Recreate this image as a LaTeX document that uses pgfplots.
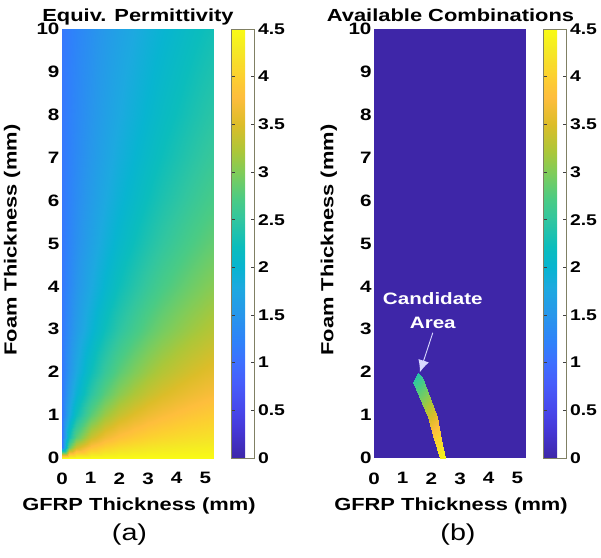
\documentclass[border=0pt]{standalone}
\usepackage{pgfplots}
\pgfplotsset{compat=1.18}
\usepackage{pgfplotstable}
\usepackage{fontspec}
\setmainfont{Liberation Sans}[FakeStretch=1.25]
\usetikzlibrary{arrows.meta}
\definecolor{parulalow}{rgb}{0.2422,0.1504,0.6603}
\definecolor{cbframe}{RGB}{128,128,100}

\pgfplotstableread{
x y c
0 0 4.5
0.25 0 4.5
0.5 0 4.5
1 0 4.5
1.5 0 4.5
2 0 4.5
2.5 0 4.5
3 0 4.5
3.5 0 4.5
4 0 4.5
4.5 0 4.5
5 0 4.5
5.3 0 4.5
0 0.25 1.1
0.25 0.25 2.8
0.5 0.25 3.367
1 0.25 3.82
1.5 0.25 4.014
2 0.25 4.122
2.5 0.25 4.191
3 0.25 4.238
3.5 0.25 4.273
4 0.25 4.3
4.5 0.25 4.321
5 0.25 4.338
5.3 0.25 4.347
0 0.5 1.1
0.25 0.5 2.233
0.5 0.5 2.8
1 0.5 3.367
1.5 0.5 3.65
2 0.5 3.82
2.5 0.5 3.933
3 0.5 4.014
3.5 0.5 4.075
4 0.5 4.122
4.5 0.5 4.16
5 0.5 4.191
5.3 0.5 4.208
0 1 1.1
0.25 1 1.78
0.5 1 2.233
1 1 2.8
1.5 1 3.14
2 1 3.367
2.5 1 3.529
3 1 3.65
3.5 1 3.744
4 1 3.82
4.5 1 3.882
5 1 3.933
5.3 1 3.959
0 1.5 1.1
0.25 1.5 1.586
0.5 1.5 1.95
1 1.5 2.46
1.5 1.5 2.8
2 1.5 3.043
2.5 1.5 3.225
3 1.5 3.367
3.5 1.5 3.48
4 1.5 3.573
4.5 1.5 3.65
5 1.5 3.715
5.3 1.5 3.749
0 2 1.1
0.25 2 1.478
0.5 2 1.78
1 2 2.233
1.5 2 2.557
2 2 2.8
2.5 2 2.989
3 2 3.14
3.5 2 3.264
4 2 3.367
4.5 2 3.454
5 2 3.529
5.3 2 3.57
0 3 1.1
0.25 3 1.362
0.5 3 1.586
1 3 1.95
1.5 3 2.233
2 3 2.46
2.5 3 2.645
3 3 2.8
3.5 3 2.931
4 3 3.043
4.5 3 3.14
5 3 3.225
5.3 3 3.274
0 4 1.1
0.25 4 1.3
0.5 4 1.478
1 4 1.78
1.5 4 2.027
2 4 2.233
2.5 4 2.408
3 4 2.557
3.5 4 2.687
4 4 2.8
4.5 4 2.899
5 4 2.989
5.3 4 3.038
0 5 1.1
0.25 5 1.262
0.5 5 1.409
1 5 1.667
1.5 5 1.885
2 5 2.071
2.5 5 2.233
3 5 2.375
3.5 5 2.5
4 5 2.611
4.5 5 2.711
5 5 2.8
5.3 5 2.851
0 6 1.1
0.25 6 1.236
0.5 6 1.362
1 6 1.586
1.5 6 1.78
2 6 1.95
2.5 6 2.1
3 6 2.233
3.5 6 2.353
4 6 2.46
4.5 6 2.557
5 6 2.645
5.3 6 2.695
0 7 1.1
0.25 7 1.217
0.5 7 1.327
1 7 1.525
1.5 7 1.7
2 7 1.856
2.5 7 1.995
3 7 2.12
3.5 7 2.233
4 7 2.336
4.5 7 2.43
5 7 2.517
5.3 7 2.565
0 8 1.1
0.25 8 1.203
0.5 8 1.3
1 8 1.478
1.5 8 1.637
2 8 1.78
2.5 8 1.91
3 8 2.027
3.5 8 2.135
4 8 2.233
4.5 8 2.324
5 8 2.408
5.3 8 2.453
0 10 1.1
0.25 10 1.183
0.5 10 1.262
1 10 1.409
1.5 10 1.543
2 10 1.667
2.5 10 1.78
3 10 1.885
3.5 10 1.981
4 10 2.071
4.5 10 2.155
5 10 2.233
5.3 10 2.277
}\permdata

\pgfplotstableread{
x y c
1.54 1.98 2.4
1.36 1.77 2.5
1.68 1.88 2.6
1.36 1.77 2.5
1.68 1.88 2.6
1.875 0.96 3.4
1.68 1.88 2.6
1.875 0.96 3.4
2.19 0.96 3.6
1.875 0.96 3.4
2.19 0.96 3.6
2.10 0.45 3.95
2.19 0.96 3.6
2.10 0.45 3.95
2.34 0.45 4.1
2.10 0.45 3.95
2.34 0.45 4.1
2.31 0 4.35
2.34 0.45 4.1
2.31 0 4.35
2.48 0 4.45
}\stripdata

\pgfplotsset{
  panel/.style={
    scale only axis, width=152pt, height=429pt,
    xmin=0, xmax=5.3, ymin=0, ymax=10,
    xtick={0,1,2,3,4,5}, ytick={0,1,2,3,4,5,6,7,8,9,10},
    axis line style={draw=none},
    tick style={draw=none},
    tick label style={font=\bfseries\fontsize{16.5}{16.5}\selectfont},
    xticklabel style={yshift=-11pt},
    yticklabel style={xshift=1pt},
    /pgf/number format/assume math mode=true,
    colormap={parula}{
      rgb(0pt)=(0.2422,0.1504,0.6603)
      rgb(4pt)=(0.2706,0.2147,0.8364)
      rgb(7pt)=(0.2803,0.2782,0.9221)
      rgb(11pt)=(0.2760,0.3667,0.9829)
      rgb(14pt)=(0.2440,0.4358,0.9988)
      rgb(17pt)=(0.1834,0.5074,0.9798)
      rgb(21pt)=(0.1540,0.5902,0.9218)
      rgb(25pt)=(0.1113,0.6635,0.8763)
      rgb(28pt)=(0.0297,0.7082,0.8163)
      rgb(31pt)=(0.0433,0.7411,0.7394)
      rgb(35pt)=(0.1938,0.7758,0.6251)
      rgb(38pt)=(0.2906,0.7973,0.5188)
      rgb(42pt)=(0.5044,0.7993,0.3480)
      rgb(45pt)=(0.6720,0.7793,0.2227)
      rgb(49pt)=(0.8634,0.7406,0.1596)
      rgb(53pt)=(0.9956,0.7434,0.2371)
      rgb(56pt)=(0.9892,0.8136,0.1885)
      rgb(60pt)=(0.9597,0.9135,0.1423)
      rgb(63pt)=(0.9769,0.9839,0.0805)
    },
    point meta min=0, point meta max=4.5,
    colorbar,
    colorbar shift/.style={xshift=17pt},
    colorbar style={
      at={(parent axis.north east)}, anchor=north west,
      scale only axis,
      width=23.5pt,
      ytick={0,0.5,1,1.5,2,2.5,3,3.5,4,4.5},
      yticklabel style={font=\bfseries\fontsize{15.5}{15.5}\selectfont, xshift=0pt},
      /pgf/number format/assume math mode=true,
      tick align=inside, major tick length=4pt,
      ytick style={draw=black!75, line width=0.6pt},
      axis line style={draw=cbframe, line width=0.7pt},
    },
  }
}

\begin{document}
\begin{tikzpicture}
\begin{axis}[panel, at={(0pt,0pt)}, anchor=south west]
  \addplot[surf, shader=interp, mesh/rows=13, mesh/cols=13, point meta=explicit]
    table[x=x, y=y, meta=c] {\permdata};
\end{axis}

\begin{axis}[panel, at={(312pt,0pt)}, anchor=south west]
  \addplot[draw=none, fill=parulalow] coordinates {(0,0) (5.3,0) (5.3,10) (0,10)} -- cycle;
  \addplot[patch, shader=interp, point meta=explicit]
    table[x=x, y=y, meta=c] {\stripdata};
  \node[font=\bfseries\fontsize{16.5}{18}\selectfont, text=white, anchor=base] at (axis cs:2.05,3.57) {Candidate};
  \node[font=\bfseries\fontsize{16.5}{18}\selectfont, text=white, anchor=base] at (axis cs:2.05,3.02) {Area};
  \draw[white!85!blue, line width=0.9pt, -{Latex[length=12pt,width=11pt]}] (axis cs:2.05,2.92) -- (axis cs:1.6,2.0);
\end{axis}

\node[font=\bfseries\fontsize{17.5}{20}\selectfont, anchor=base] at (76pt,436.3pt) {Equiv. Permittivity};
\node[font=\bfseries\fontsize{17.5}{20}\selectfont, anchor=base] at (388.5pt,436.3pt) {Available Combinations};
\node[font=\bfseries\fontsize{17.5}{20}\selectfont, anchor=base, rotate=90] at (-45.3pt,218pt) {Foam Thickness (mm)};
\node[font=\bfseries\fontsize{17.5}{20}\selectfont, anchor=base, rotate=90] at (271.3pt,218pt) {Foam Thickness (mm)};
\node[font=\bfseries\fontsize{17.5}{20}\selectfont, anchor=base] at (77pt,-52pt) {GFRP Thickness (mm)};
\node[font=\bfseries\fontsize{17.5}{20}\selectfont, anchor=base] at (389pt,-52pt) {GFRP Thickness (mm)};
\node[font=\fontsize{23}{26}\selectfont, anchor=base] at (67.5pt,-82pt) {(a)};
\node[font=\fontsize{23}{26}\selectfont, anchor=base] at (396pt,-82pt) {(b)};

\pgfresetboundingbox
\path (-62pt,-99pt) rectangle (539pt,458pt);
\end{tikzpicture}
\end{document}
